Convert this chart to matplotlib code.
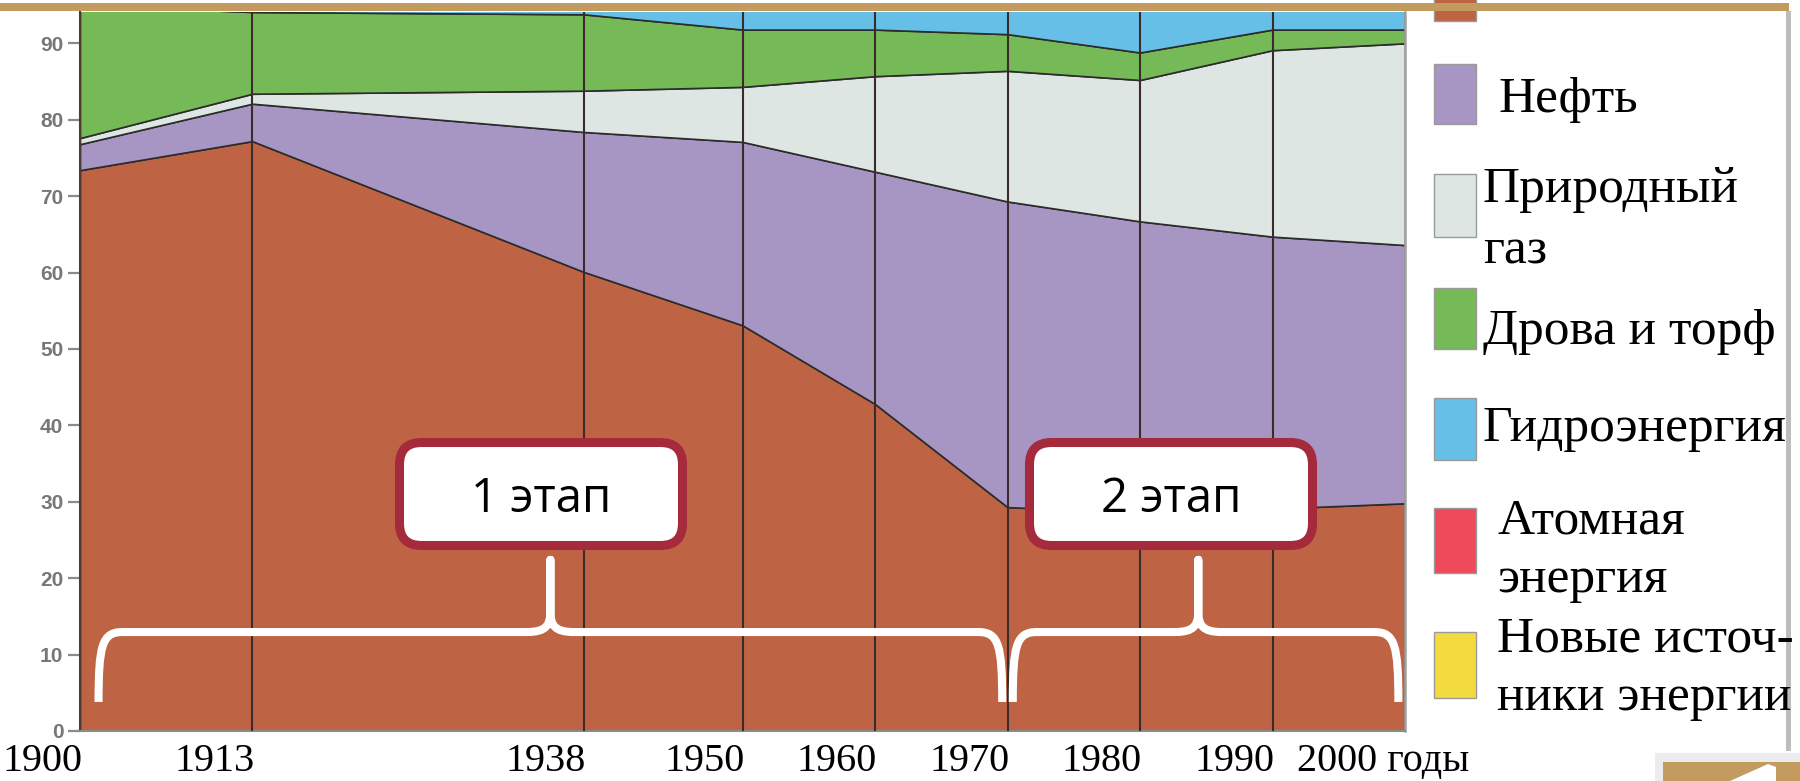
import matplotlib
matplotlib.use("Agg")
import matplotlib.pyplot as plt
from matplotlib.patches import Rectangle, FancyBboxPatch, Polygon, PathPatch
from matplotlib.path import Path
import matplotlib.transforms as mtransforms

# ---------------- data ----------------
years = [1900, 1913, 1938, 1950, 1960, 1970, 1980, 1990, 2000]
year_labels = ["1900", "1913", "1938", "1950", "1960", "1970", "1980", "1990", "2000 годы"]

coal   = [73.4, 77.2, 60.1, 53.1, 42.8, 29.3, 28.6, 29.1, 29.8]
oil    = [3.4, 4.9, 18.3, 24.0, 30.4, 40.0, 38.1, 35.6, 33.8]
gas    = [0.8, 1.3, 5.4, 7.2, 12.5, 17.1, 18.5, 24.4, 26.4]
wood   = [17.4, 10.7, 10.0, 7.5, 6.1, 4.8, 3.6, 2.7, 1.8]
hydro  = [5.0, 5.9, 6.2, 8.2, 8.2, 8.3, 8.4, 4.2, 3.2]
atomic = [0.0, 0.0, 0.0, 0.0, 0.0, 0.5, 2.5, 3.5, 4.0]
new    = [0.0, 0.0, 0.0, 0.0, 0.0, 0.0, 0.3, 0.5, 1.0]

legend_labels = ["Уголь", "Нефть", "Природный\nгаз", "Дрова и торф",
                 "Гидроэнергия", "Атомная\nэнергия", "Новые источ-\nники энергии"]
colors = ["#BE6445", "#A796C3", "#DDE6E2", "#76B957", "#66BFE6", "#EE4A5C", "#F3DA3E"]

y_ticks = [0, 10, 20, 30, 40, 50, 60, 70, 80, 90]
stages = ["1 этап", "2 этап"]

# ---------------- figure ----------------
W, H = 1800, 781
fig = plt.figure(figsize=(W / 100, H / 100), dpi=100)
fig.patch.set_facecolor("white")

ax_l, ax_r, ax_b, ax_t = 80, 1405, 731, 12
ax = fig.add_axes([ax_l / W, (H - ax_b) / H, (ax_r - ax_l) / W, (ax_b - ax_t) / H])

ax.stackplot(years, coal, oil, gas, wood, hydro, atomic, new,
             colors=colors, edgecolor="#2b2b2b", linewidth=1.2)
for y in years[1:-1]:
    ax.axvline(y, color="#3b2b2b", lw=1.5, zorder=3)

ax.set_xlim(years[0], years[-1])
ax.set_ylim(0, 94.1)

ax.spines["top"].set_visible(False)
ax.spines["left"].set_color("#4d3b36")
ax.spines["left"].set_linewidth(1.5)
ax.spines["bottom"].set_color("#8c8c8c")
ax.spines["bottom"].set_linewidth(1.5)
ax.spines["right"].set_color("#a0a0a0")
ax.spines["right"].set_linewidth(1.8)

ax.set_yticks(y_ticks)
ax.set_yticklabels([str(v) for v in y_ticks], fontfamily="Liberation Sans",
                   fontweight="bold", fontsize=15, color="#777777")
ax.tick_params(axis="y", length=9, width=1.6, color="#8a8a8a", pad=3)

ax.set_xticks(years)
ax.set_xticklabels(year_labels, fontfamily="Liberation Serif", fontsize=29, color="black")
ax.tick_params(axis="x", length=0, pad=8.5)
for i, lab in enumerate(ax.get_xticklabels()):
    dx = -22 if i == len(years) - 1 else -38
    lab.set_transform(lab.get_transform() +
                      mtransforms.ScaledTranslation(dx / 100, 0, fig.dpi_scale_trans))


# ---------------- braces (white) ----------------
def brace(ax, x0, x1, xm, yb, ybar, ytip):
    hx, hy = 1.8, 2.8
    verts = [
        (x0, yb), (x0, ybar - 1.8), (x0 + 0.25, ybar), (x0 + hx, ybar),
        (xm - hx, ybar),
        (xm - 0.3, ybar), (xm, ybar + 0.9), (xm, ybar + hy),
        (xm, ytip),
        (xm, ybar + hy),
        (xm, ybar + 0.9), (xm + 0.3, ybar), (xm + hx, ybar),
        (x1 - hx, ybar),
        (x1 - 0.25, ybar), (x1, ybar - 1.8), (x1, yb),
    ]
    codes = [Path.MOVETO, Path.CURVE4, Path.CURVE4, Path.CURVE4,
             Path.LINETO,
             Path.CURVE4, Path.CURVE4, Path.CURVE4,
             Path.LINETO,
             Path.LINETO,
             Path.CURVE4, Path.CURVE4, Path.CURVE4,
             Path.LINETO,
             Path.CURVE4, Path.CURVE4, Path.CURVE4]
    ax.add_patch(PathPatch(Path(verts, codes), facecolor="none", edgecolor="white",
                           lw=5.8, capstyle="butt", joinstyle="round", zorder=5))


brace(ax, 1901.4, 1969.6, 1935.5, 3.8, 12.95, 22.4)
brace(ax, 1970.4, 1999.5, 1984.4, 3.8, 12.95, 22.4)

# ---------------- overlay in pixel units ----------------
pax = fig.add_axes([0, 0, 1, 1], zorder=10)
pax.set_xlim(0, W)
pax.set_ylim(H, 0)
pax.axis("off")

# stage boxes
for (cx, label) in zip([541, 1171], stages):
    bw, bh = 283, 103
    pax.add_patch(FancyBboxPatch((cx - bw / 2, 442.5), bw, bh,
                                 boxstyle="round,pad=0,rounding_size=22",
                                 facecolor="white", edgecolor="#A42A3C", lw=6.5))
    pax.text(cx, 512, label, fontfamily="Open Sans", fontsize=34, color="black",
             ha="center", va="baseline")

# legend (custom, first entry cut off at the top like the slide)
sw_x, sw_w = 1434, 42
sw_y = [(-38, 21), (64, 124), (174, 237), (288, 349), (398, 460), (508, 573), (632, 698)]
txt_x = [1483, 1498, 1483, 1483, 1483, 1497, 1497]
baselines = [[-10], [112], [202, 264], [344], [441], [533, 592], [652, 710]]
for lab, col, (y0, y1), tx, bls in zip(legend_labels, colors, sw_y, txt_x, baselines):
    pax.add_patch(Rectangle((sw_x, y0), sw_w, y1 - y0, facecolor=col,
                            edgecolor="#9a9a9a", lw=1.0))
    for line, bl in zip(lab.split("\n"), bls):
        if bl < 0:
            continue  # hidden above the slide edge in the reference
        pax.text(tx, bl, line, fontfamily="Liberation Serif", fontsize=37,
                 color="black", ha="left", va="baseline")

# slide frame: top band, right shadow line, nav button
pax.add_patch(Rectangle((0, 2.5), 1789, 8.5, facecolor="#C39B5F", edgecolor="none"))
pax.add_patch(Rectangle((1786, 11), 5, 740, facecolor="#BDBDBD", edgecolor="none", zorder=0))
pax.add_patch(Rectangle((1655, 753), 150, 35, facecolor="#ECECEC", edgecolor="none"))
pax.add_patch(Rectangle((1663, 762), 140, 25, facecolor="#C39B5F", edgecolor="none"))
pax.add_patch(Polygon([(1730, 781), (1768, 764), (1776, 767), (1776, 781)],
                      closed=True, facecolor="white", edgecolor="none"))

fig.savefig("out.png", dpi=100)
